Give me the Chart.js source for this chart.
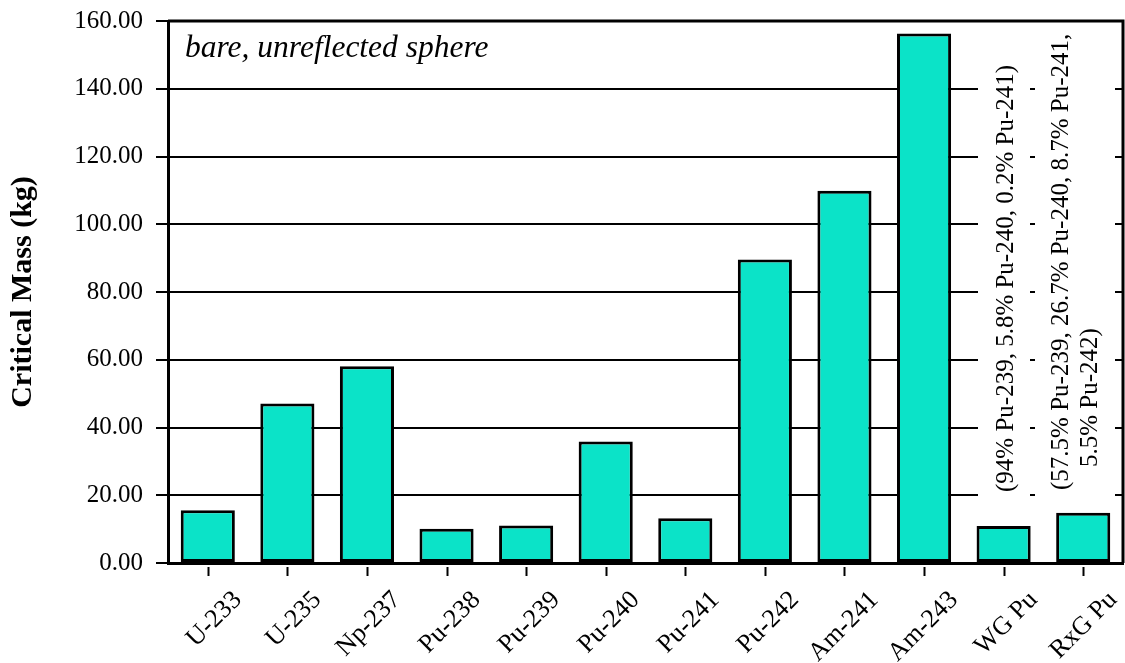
<!DOCTYPE html>
<html>
<head>
<meta charset="utf-8">
<script src="https://cdn.jsdelivr.net/npm/chart.js@4.4.1/dist/chart.umd.min.js"></script>
<style>
  html, body { margin: 0; padding: 0; background: #fff; }
  #wrap { width: 1125px; height: 663px; position: relative; }
</style>
</head>
<body>
<div id="wrap"><canvas id="grafica-mass"></canvas></div>
<script>
// isotopes and critical mass of a bare sphere (kg)
const isotopes = ['U-233', 'U-235', 'Np-237', 'Pu-238', 'Pu-239', 'Pu-240', 'Pu-241', 'Pu-242', 'Am-241', 'Am-243', 'WG Pu', 'RxG Pu'];
const criticalMass = [15.6, 47.1, 58.1, 10.1, 11.1, 35.9, 13.2, 89.6, 109.9, 156.3, 10.9, 14.8];
const yTicks = [0, 20, 40, 60, 80, 100, 120, 140, 160];

const noteText = 'bare, unreflected sphere';
const wgNote = ['(94% Pu-239, 5.8% Pu-240, 0.2% Pu-241)'];
const rxgNote = ['(57.5% Pu-239, 26.7% Pu-240, 8.7% Pu-241,', '5.5% Pu-242)'];

const serif = '"Liberation Serif", "Times New Roman", serif';

// top/right frame, detached x tick marks and the text notes
const extras = {
    id: 'extras',
    afterDraw(chart) {
        const ctx = chart.ctx;
        const area = chart.chartArea;
        const x = chart.scales.x;
        ctx.save();
        ctx.strokeStyle = '#000';

        // white boxes hide the grid behind the rotated notes
        ctx.fillStyle = '#fff';
        ctx.fillRect(978, 45, 52, 462);
        ctx.fillRect(1035, 28, 80, 479);

        ctx.lineWidth = 3;
        ctx.beginPath();
        ctx.moveTo(area.left, area.top);
        ctx.lineTo(area.right, area.top);
        ctx.lineTo(area.right, area.bottom);
        ctx.stroke();

        ctx.lineWidth = 2;
        for (let i = 0; i < x.ticks.length; i++) {
            const px = Math.round(x.getPixelForTick(i)) + 0.5;
            ctx.beginPath();
            ctx.moveTo(px, area.bottom + 4);
            ctx.lineTo(px, area.bottom + 13);
            ctx.stroke();
        }

        ctx.fillStyle = '#000';
        ctx.font = 'italic 31.5px ' + serif;
        ctx.textAlign = 'left';
        ctx.textBaseline = 'alphabetic';
        ctx.fillText(noteText, area.left + 17, area.top + 36);

        ctx.font = '25px ' + serif;
        const drawUp = (txt, bx, by) => {
            ctx.save();
            ctx.translate(bx, by);
            ctx.rotate(-Math.PI / 2);
            ctx.fillText(txt, 0, 0);
            ctx.restore();
        };
        drawUp(wgNote[0], 1013, 492);
        drawUp(rxgNote[0], 1068, 490);
        drawUp(rxgNote[1], 1097, 467);
        ctx.restore();
    }
};

const canvas = document.getElementById('grafica-mass');
const massChart = new Chart(canvas, {
    type: 'bar',
    data: {
        labels: isotopes,
        datasets: [{
            label: 'Critical Mass',
            data: criticalMass,
            backgroundColor: '#0BE3C8',
            borderColor: '#000',
            borderWidth: 3,
            borderSkipped: false,
            barPercentage: 0.68,
            categoryPercentage: 1
        }]
    },
    options: {
        responsive: true,
        maintainAspectRatio: false,
        animation: false,
        layout: { padding: { top: 21, right: 2, left: 0, bottom: 0 } },
        plugins: {
            legend: { display: false },
            tooltip: { enabled: false }
        },
        scales: {
            x: {
                offset: true,
                grid: { display: false, drawTicks: false },
                border: { color: '#000', width: 3 },
                ticks: {
                    autoSkip: false,
                    minRotation: 45,
                    maxRotation: 45,
                    padding: 22,
                    labelOffset: 30,
                    color: '#000',
                    font: { family: serif, size: 26 }
                },
                afterFit(scale) {
                    scale.height = 100;
                    scale.paddingLeft = 0;
                    scale.paddingRight = 0;
                }
            },
            y: {
                min: 0,
                max: 160,
                afterBuildTicks(scale) { scale.ticks = yTicks.map(v => ({ value: v })); },
                grid: {
                    color: '#000',
                    lineWidth: 2,
                    drawTicks: true,
                    tickLength: 12,
                    tickColor: '#000',
                    tickWidth: 2
                },
                border: { color: '#000', width: 3 },
                ticks: {
                    padding: 13,
                    color: '#000',
                    font: { family: serif, size: 25 },
                    callback: v => v.toFixed(2)
                },
                title: {
                    display: true,
                    text: 'Critical Mass (kg)',
                    color: '#000',
                    font: { family: serif, size: 30, weight: 'bold' },
                    padding: { top: 5, bottom: 0 }
                },
                afterFit(scale) {
                    scale.width = 168;
                    scale.paddingTop = 0;
                    scale.paddingBottom = 0;
                }
            }
        }
    },
    plugins: [extras]
});
</script>
</body>
</html>
